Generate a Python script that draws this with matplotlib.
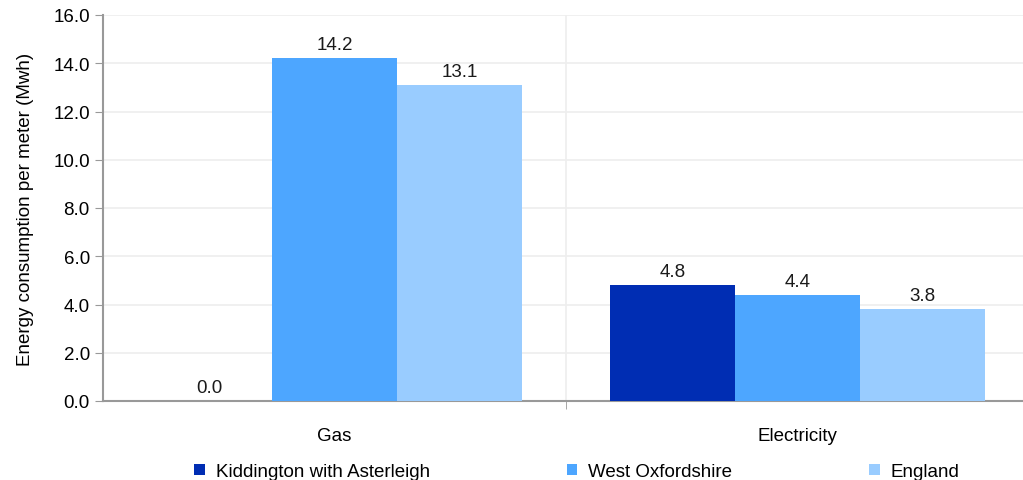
import numpy as np
import matplotlib.pyplot as plt

plt.rcParams['font.family'] = ['Liberation Sans', 'DejaVu Sans']

categories = ["Gas", "Electricity"]
series = ["Kiddington with Asterleigh", "West Oxfordshire", "England"]
kiddington = [0.0, 4.8]
west_oxon = [14.2, 4.4]
england = [13.1, 3.8]
colors = ["#002db3", "#4da6ff", "#99ccff"]

fs = 13.5
fig = plt.figure(figsize=(10.23, 4.81), dpi=100)
ax = fig.add_axes([103 / 1023, 1 - 402 / 481, 920 / 1023, 386 / 481])

x = np.arange(len(categories))
w = 0.27
for i, (vals, c, name) in enumerate(zip([kiddington, west_oxon, england], colors, series)):
    pos = x + (i - 1) * w
    ax.bar(pos, vals, width=w, color=c, label=name, zorder=3)
    for xp, v in zip(pos, vals):
        ax.text(xp, v + 0.22, f"{v:.1f}", ha="center", va="bottom", fontsize=fs, color="#1a1a1a")

ax.set_xlim(-0.5, 1.487)
ax.set_ylim(0, 16)
ax.set_yticks(np.arange(0, 17, 2))
ax.set_yticklabels([f"{t:.1f}" for t in np.arange(0, 17, 2)], fontsize=fs)
ax.set_ylabel("Energy consumption per meter (Mwh)", fontsize=fs, labelpad=14)

ax.set_xticks(x)
ax.set_xticklabels(categories, fontsize=fs)
ax.tick_params(axis="x", length=0, pad=19)
ax.set_xticks([0.5], minor=True)
ax.tick_params(axis="x", which="minor", length=6, color="#999999")
ax.tick_params(axis="y", length=6, color="#999999")

ax.grid(axis="y", color="#eeeeee", linewidth=1.2, zorder=0)
ax.axvline(0.5, color="#eeeeee", linewidth=1.2, zorder=0)

for s in ["top", "right"]:
    ax.spines[s].set_visible(False)
for s in ["left", "bottom"]:
    ax.spines[s].set_color("#999999")
    ax.spines[s].set_linewidth(1.5)

fig.legend(loc="lower center", bbox_to_anchor=(0.564, -0.035), ncol=3, frameon=False,
           fontsize=fs, handlelength=0.55, handleheight=0.55, columnspacing=7.3, handletextpad=0.6)

fig.savefig("out.png", dpi=100)
